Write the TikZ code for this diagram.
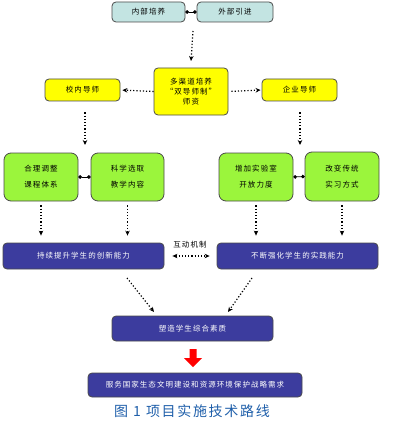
\documentclass[tikz,border=0pt]{standalone}
\usepackage{fontspec}
\usetikzlibrary{arrows.meta}
\newfontfamily\cjk[LetterSpace=14]{Noto Sans CJK SC}
\newfontfamily\cjkcap[LetterSpace=12]{Noto Sans CJK SC}
\definecolor{tealbox}{HTML}{C3E4E2}
\definecolor{yelbox}{HTML}{FFFF00}
\definecolor{grnbox}{HTML}{9BF53C}
\definecolor{blubox}{HTML}{3C3C9E}
\definecolor{bordc}{HTML}{4A4A4A}
\definecolor{capblue}{HTML}{1F5FAA}
\tikzset{
  base/.style={draw=bordc, line width=0.8pt, rounded corners=4pt, inner sep=0pt, align=center},
  topbox/.style={base, fill=tealbox, minimum height=20pt, font=\cjk\fontsize{7.5}{9}\selectfont},
  yelbx/.style={base, fill=yelbox, font=\cjk\fontsize{7.5}{10}\selectfont},
  grnbx/.style={base, fill=grnbox, rounded corners=7pt, minimum width=74pt, minimum height=48pt, font=\cjk\fontsize{7.5}{16}\selectfont},
  blubx/.style={base, fill=blubox, text=white, minimum width=161pt, font=\cjk\fontsize{7.5}{9}\selectfont},
  darr/.style={dotted, line width=1.2pt, -{Stealth[length=5pt,width=4.5pt]}},
  dots/.style={line width=0.8pt, {Circle[length=3.5pt]}-{Circle[length=3.5pt]}}
}
\begin{document}
\begin{tikzpicture}[x=1pt,y=-1pt]
\useasboundingbox (0,0) rectangle (405,425);
% top
\node[topbox, minimum width=73pt] (nb) at (148.5,12) {内部培养};
\node[topbox, minimum width=76pt] (wb) at (235,12) {外部引进};
\draw[dots] (nb.east) -- (wb.west);
\coordinate (t0) at (193,31);
% center
\node[yelbx, minimum width=74pt, minimum height=47pt] (c) at (191,91.5) {多渠道培养\\“双导师制”\\师资};
\draw[darr] (t0) -- (c.north |- 0,61) coordinate (t1);
\node[yelbx, minimum width=75pt, minimum height=22pt] (l) at (82.5,90) {校内导师};
\node[yelbx, minimum width=75pt, minimum height=22pt] (r) at (299.5,90) {企业导师};
\draw[darr, shorten >=2pt] (c.west) -- (l.east);
\draw[darr, shorten <=3pt, shorten >=1pt] (c.east) -- (r.west);
% green
\node[grnbx] (g1) at (41,177) {合理调整\\课程体系};
\node[grnbx, minimum width=73pt] (g2) at (127.5,177) {科学选取\\教学内容};
\node[grnbx] (g3) at (256,177) {增加实验室\\开放力度};
\node[grnbx, minimum height=49pt] (g4) at (342,176.5) {改变传统\\实习方式};
\draw[dots] (g1.east) -- (g2.west);
\draw[dots] (g3.east) -- (g4.west);
\coordinate (lg) at (85,145);
\coordinate (rg) at (300,145);
\draw[darr, shorten <=11pt] (l.south -| lg) -- (lg);
\draw[darr, shorten <=11pt] (r.south -| rg) -- (rg);
% blue
\node[blubx, minimum height=26pt] (p1) at (83.5,256) {持续提升学生的创新能力};
\node[blubx, minimum height=26pt] (p2) at (297.5,256) {不断强化学生的实践能力};
\foreach \g/\p in {g1/p1, g2/p1, g3/p2, g4/p2}
  \draw[darr, shorten <=4pt, shorten >=7pt] (\g.south) -- (\g.south |- \p.north);
\draw[dotted, line width=1.2pt, {Stealth[length=5pt,width=4.5pt]}-{Stealth[length=5pt,width=4.5pt]}, shorten <=8pt, shorten >=7pt] (p1.east) -- (p2.west);
\node[font=\cjk\fontsize{7.5}{9}\selectfont, inner sep=0pt] (hd) at (190,245) {互动机制};
% synthesis
\node[blubx, minimum height=25pt] (s) at (192.5,328.5) {塑造学生综合素质};
\coordinate (d1) at (127,278);
\coordinate (d2) at (154,312);
\coordinate (d3) at (252,278);
\coordinate (d4) at (228,312);
\draw[darr] (d1) -- (d2);
\draw[darr] (d3) -- (d4);
% red arrow
\fill[red] (189.5,349) -- (196.5,349) -- (196.5,358) -- (202,358) -- (193,367) -- (184,358) -- (189.5,358) -- cycle;
% final
\node[blubx, minimum width=214pt, minimum height=24pt, font=\cjk\fontsize{7.5}{9}\selectfont] (f) at (195,385) {服务国家生态文明建设和资源环境保护战略需求};
\node[text=capblue, font=\cjkcap\fontsize{14}{16}\selectfont, inner sep=0pt] (cap) at (192,411) {图\hspace{5pt}1\hspace{5pt}项目实施技术路线};
\end{tikzpicture}
\end{document}
